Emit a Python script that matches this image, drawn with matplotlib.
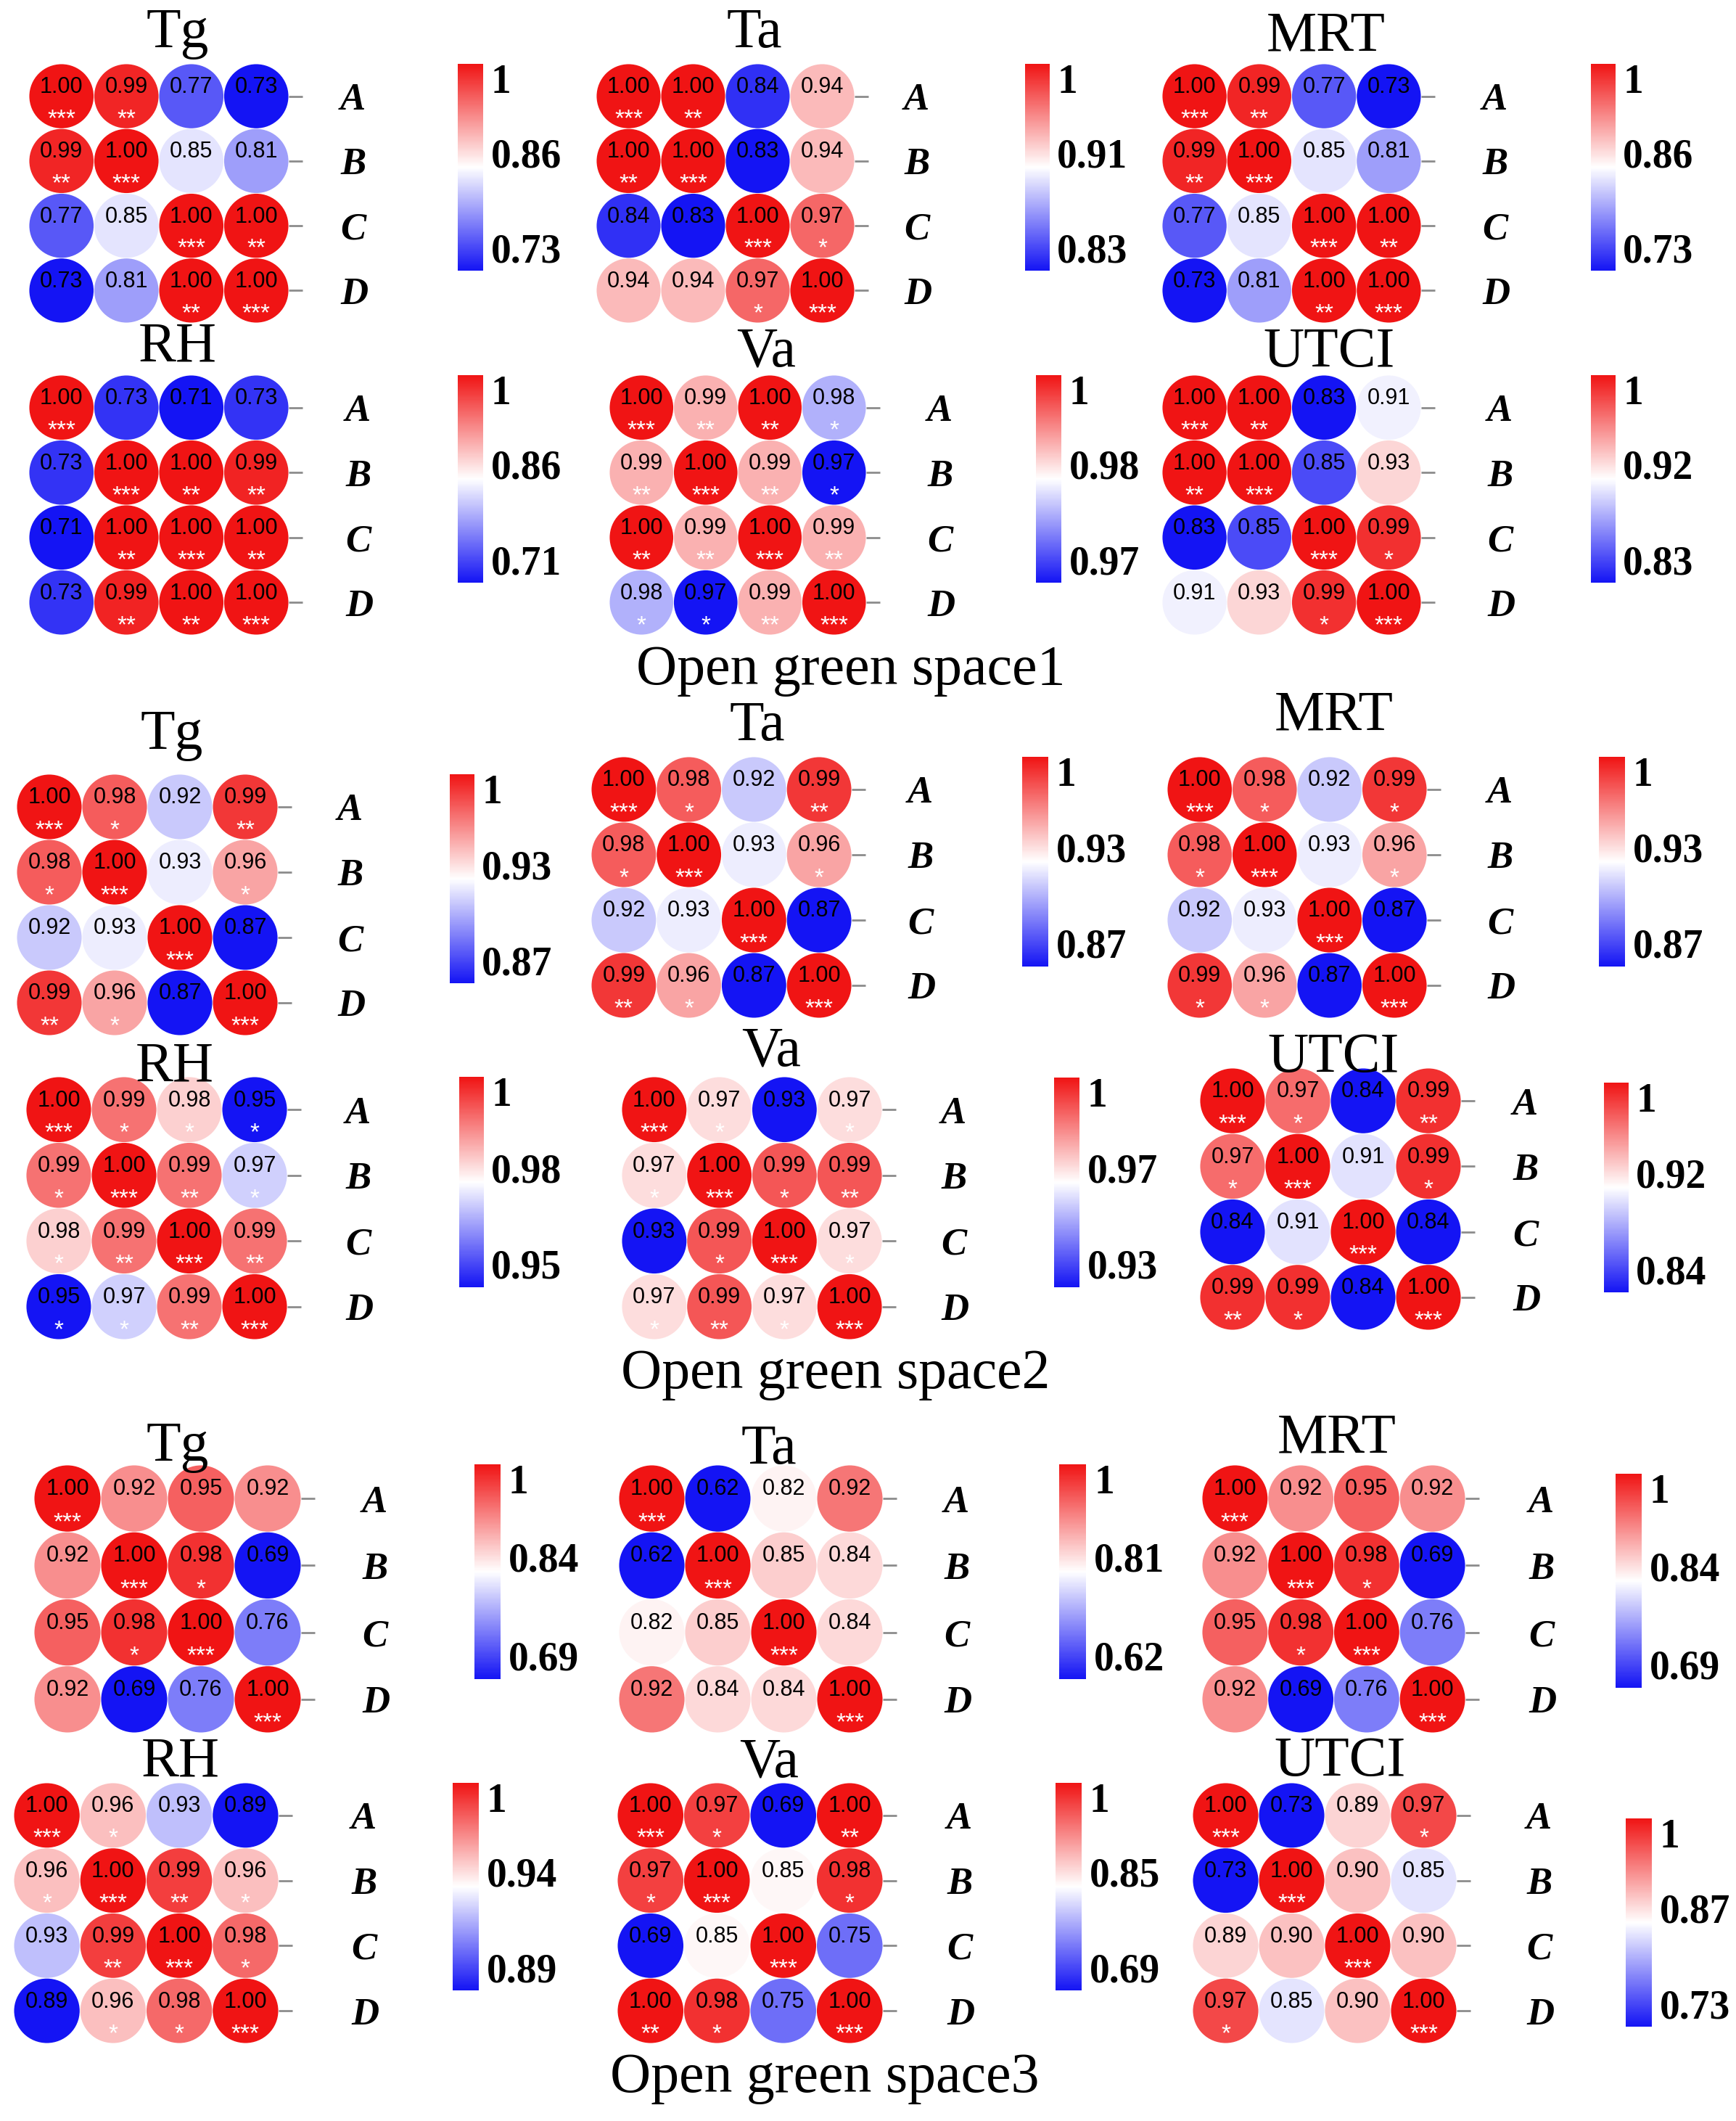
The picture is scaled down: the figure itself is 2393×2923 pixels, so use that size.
import matplotlib.pyplot as plt
from matplotlib.colors import LinearSegmentedColormap, Normalize
from matplotlib.cm import ScalarMappable
from matplotlib.patches import Ellipse

W, H = 2393, 2923

sites = ["A", "B", "C", "D"]

# ---- Open green space 1 ----
s1_tg = [[1.00, 0.99, 0.77, 0.73], [0.99, 1.00, 0.85, 0.81],
         [0.77, 0.85, 1.00, 1.00], [0.73, 0.81, 1.00, 1.00]]
s1_tg_sig = [[3, 2, 0, 0], [2, 3, 0, 0], [0, 0, 3, 2], [0, 0, 2, 3]]
s1_ta = [[1.00, 1.00, 0.84, 0.94], [1.00, 1.00, 0.83, 0.94],
         [0.84, 0.83, 1.00, 0.97], [0.94, 0.94, 0.97, 1.00]]
s1_ta_sig = [[3, 2, 0, 0], [2, 3, 0, 0], [0, 0, 3, 1], [0, 0, 1, 3]]
s1_mrt = [[1.00, 0.99, 0.77, 0.73], [0.99, 1.00, 0.85, 0.81],
          [0.77, 0.85, 1.00, 1.00], [0.73, 0.81, 1.00, 1.00]]
s1_mrt_sig = [[3, 2, 0, 0], [2, 3, 0, 0], [0, 0, 3, 2], [0, 0, 2, 3]]
s1_rh = [[1.00, 0.73, 0.71, 0.73], [0.73, 1.00, 1.00, 0.99],
         [0.71, 1.00, 1.00, 1.00], [0.73, 0.99, 1.00, 1.00]]
s1_rh_sig = [[3, 0, 0, 0], [0, 3, 2, 2], [0, 2, 3, 2], [0, 2, 2, 3]]
s1_va = [[1.00, 0.99, 1.00, 0.98], [0.99, 1.00, 0.99, 0.97],
         [1.00, 0.99, 1.00, 0.99], [0.98, 0.97, 0.99, 1.00]]
s1_va_sig = [[3, 2, 2, 1], [2, 3, 2, 1], [2, 2, 3, 2], [1, 1, 2, 3]]
s1_utci = [[1.00, 1.00, 0.83, 0.91], [1.00, 1.00, 0.85, 0.93],
           [0.83, 0.85, 1.00, 0.99], [0.91, 0.93, 0.99, 1.00]]
s1_utci_sig = [[3, 2, 0, 0], [2, 3, 0, 0], [0, 0, 3, 1], [0, 0, 1, 3]]

# ---- Open green space 2 ----
s2_tg = [[1.00, 0.98, 0.92, 0.99], [0.98, 1.00, 0.93, 0.96],
         [0.92, 0.93, 1.00, 0.87], [0.99, 0.96, 0.87, 1.00]]
s2_tg_sig = [[3, 1, 0, 2], [1, 3, 0, 1], [0, 0, 3, 0], [2, 1, 0, 3]]
s2_ta = [[1.00, 0.98, 0.92, 0.99], [0.98, 1.00, 0.93, 0.96],
         [0.92, 0.93, 1.00, 0.87], [0.99, 0.96, 0.87, 1.00]]
s2_ta_sig = [[3, 1, 0, 2], [1, 3, 0, 1], [0, 0, 3, 0], [2, 1, 0, 3]]
s2_mrt = [[1.00, 0.98, 0.92, 0.99], [0.98, 1.00, 0.93, 0.96],
          [0.92, 0.93, 1.00, 0.87], [0.99, 0.96, 0.87, 1.00]]
s2_mrt_sig = [[3, 1, 0, 1], [1, 3, 0, 1], [0, 0, 3, 0], [1, 1, 0, 3]]
s2_rh = [[1.00, 0.99, 0.98, 0.95], [0.99, 1.00, 0.99, 0.97],
         [0.98, 0.99, 1.00, 0.99], [0.95, 0.97, 0.99, 1.00]]
s2_rh_sig = [[3, 1, 1, 1], [1, 3, 2, 1], [1, 2, 3, 2], [1, 1, 2, 3]]
s2_va = [[1.00, 0.97, 0.93, 0.97], [0.97, 1.00, 0.99, 0.99],
         [0.93, 0.99, 1.00, 0.97], [0.97, 0.99, 0.97, 1.00]]
s2_va_sig = [[3, 1, 0, 1], [1, 3, 1, 2], [0, 1, 3, 1], [1, 2, 1, 3]]
s2_utci = [[1.00, 0.97, 0.84, 0.99], [0.97, 1.00, 0.91, 0.99],
           [0.84, 0.91, 1.00, 0.84], [0.99, 0.99, 0.84, 1.00]]
s2_utci_sig = [[3, 1, 0, 2], [1, 3, 0, 1], [0, 0, 3, 0], [2, 1, 0, 3]]

# ---- Open green space 3 ----
s3_tg = [[1.00, 0.92, 0.95, 0.92], [0.92, 1.00, 0.98, 0.69],
         [0.95, 0.98, 1.00, 0.76], [0.92, 0.69, 0.76, 1.00]]
s3_tg_sig = [[3, 0, 0, 0], [0, 3, 1, 0], [0, 1, 3, 0], [0, 0, 0, 3]]
s3_ta = [[1.00, 0.62, 0.82, 0.92], [0.62, 1.00, 0.85, 0.84],
         [0.82, 0.85, 1.00, 0.84], [0.92, 0.84, 0.84, 1.00]]
s3_ta_sig = [[3, 0, 0, 0], [0, 3, 0, 0], [0, 0, 3, 0], [0, 0, 0, 3]]
s3_mrt = [[1.00, 0.92, 0.95, 0.92], [0.92, 1.00, 0.98, 0.69],
          [0.95, 0.98, 1.00, 0.76], [0.92, 0.69, 0.76, 1.00]]
s3_mrt_sig = [[3, 0, 0, 0], [0, 3, 1, 0], [0, 1, 3, 0], [0, 0, 0, 3]]
s3_rh = [[1.00, 0.96, 0.93, 0.89], [0.96, 1.00, 0.99, 0.96],
         [0.93, 0.99, 1.00, 0.98], [0.89, 0.96, 0.98, 1.00]]
s3_rh_sig = [[3, 1, 0, 0], [1, 3, 2, 1], [0, 2, 3, 1], [0, 1, 1, 3]]
s3_va = [[1.00, 0.97, 0.69, 1.00], [0.97, 1.00, 0.85, 0.98],
         [0.69, 0.85, 1.00, 0.75], [1.00, 0.98, 0.75, 1.00]]
s3_va_sig = [[3, 1, 0, 2], [1, 3, 0, 1], [0, 0, 3, 0], [2, 1, 0, 3]]
s3_utci = [[1.00, 0.73, 0.89, 0.97], [0.73, 1.00, 0.90, 0.85],
           [0.89, 0.90, 1.00, 0.90], [0.97, 0.85, 0.90, 1.00]]
s3_utci_sig = [[3, 0, 0, 1], [0, 3, 0, 0], [0, 0, 3, 0], [1, 0, 0, 3]]

# colorbar tick labels (low, mid); top is always 1
cbar_low = [0.73, 0.83, 0.73, 0.71, 0.97, 0.83,
            0.87, 0.87, 0.87, 0.95, 0.93, 0.84,
            0.69, 0.62, 0.69, 0.89, 0.69, 0.73]
cbar_mid = [0.86, 0.91, 0.86, 0.86, 0.98, 0.92,
            0.93, 0.93, 0.93, 0.98, 0.97, 0.92,
            0.84, 0.81, 0.84, 0.94, 0.85, 0.87]

names = ["Tg", "Ta", "MRT", "RH", "Va", "UTCI"] * 3
matrices = [s1_tg, s1_ta, s1_mrt, s1_rh, s1_va, s1_utci,
            s2_tg, s2_ta, s2_mrt, s2_rh, s2_va, s2_utci,
            s3_tg, s3_ta, s3_mrt, s3_rh, s3_va, s3_utci]
signif = [s1_tg_sig, s1_ta_sig, s1_mrt_sig, s1_rh_sig, s1_va_sig, s1_utci_sig,
          s2_tg_sig, s2_ta_sig, s2_mrt_sig, s2_rh_sig, s2_va_sig, s2_utci_sig,
          s3_tg_sig, s3_ta_sig, s3_mrt_sig, s3_rh_sig, s3_va_sig, s3_utci_sig]
section_titles = ["Open green space1", "Open green space2", "Open green space3"]

# layout in pixels: grid box, label x, colorbar box, title (x, baseline)
layout = [
    ((40, 398, 88, 445), 490, (631, 666, 88, 373), (245, 65)),
    ((822, 1178, 88, 445), 1267, (1413, 1447, 88, 373), (1040, 65)),
    ((1602, 1959, 88, 445), 2064, (2193, 2227, 88, 373), (1828, 70)),
    ((40, 398, 517, 875), 497, (631, 666, 517, 803), (245, 497)),
    ((840, 1194, 517, 875), 1299, (1428, 1463, 517, 803), (1056, 505)),
    ((1602, 1959, 517, 875), 2071, (2193, 2227, 517, 803), (1832, 505)),
    ((23, 383, 1067, 1427), 486, (620, 654, 1067, 1355), (237, 1032)),
    ((815, 1174, 1043, 1403), 1272, (1409, 1445, 1043, 1332), (1044, 1020)),
    ((1609, 1967, 1043, 1403), 2071, (2204, 2240, 1043, 1332), (1839, 1005)),
    ((36, 396, 1484, 1846), 497, (633, 667, 1484, 1774), (241, 1490)),
    ((857, 1216, 1484, 1846), 1318, (1453, 1488, 1485, 1774), (1063, 1468)),
    ((1654, 2014, 1472, 1833), 2106, (2211, 2245, 1492, 1781), (1838, 1477)),
    ((47, 415, 2019, 2388), 520, (654, 690, 2018, 2314), (245, 2013)),
    ((853, 1217, 2019, 2388), 1322, (1460, 1497, 2018, 2314), (1060, 2017)),
    ((1657, 2020, 2019, 2388), 2128, (2227, 2263, 2031, 2326), (1843, 2002)),
    ((19, 384, 2457, 2816), 505, (624, 660, 2457, 2743), (249, 2448)),
    ((851, 1217, 2457, 2816), 1326, (1455, 1491, 2457, 2743), (1060, 2448)),
    ((1644, 2008, 2457, 2816), 2125, (2241, 2277, 2506, 2793), (1847, 2447)),
]
section_pos = [(1173, 943), (1152, 1913), (1137, 2883)]

cmap = LinearSegmentedColormap.from_list("bwr_like", ["#1414f4", "#ffffff", "#f01414"])
serif = "Liberation Serif"
sans = "Liberation Sans"


def frac(box):
    x0, x1, y0, y1 = box
    return [x0 / W, 1 - y1 / H, (x1 - x0) / W, (y1 - y0) / H]


fig = plt.figure(figsize=(W / 100, H / 100), dpi=100)
fig.patch.set_facecolor("white")

for k in range(18):
    vals = matrices[k]
    sig = signif[k]
    low, mid = cbar_low[k], cbar_mid[k]
    grid, lab_x, cbox, (tx, ty) = layout[k]
    norm = Normalize(vmin=low, vmax=1.0)

    ax = fig.add_axes(frac(grid))
    for i in range(4):
        for j in range(4):
            v = vals[i][j]
            ax.add_patch(Ellipse((j + 0.5, i + 0.5), 0.99, 0.99,
                                 facecolor=cmap(norm(v)), edgecolor="none"))
            ax.text(j + 0.5, i + 0.36, f"{v:.2f}", ha="center", va="center",
                    fontsize=22, family=sans, color="black")
            if sig[i][j]:
                ax.text(j + 0.5, i + 0.86, "*" * sig[i][j], ha="center", va="center",
                        fontsize=24, family=sans, color="white")
    ax.set_xlim(0, 4)
    ax.set_ylim(4, 0)
    ax.set_xticks([])
    for sp in ax.spines.values():
        sp.set_visible(False)
    ax.yaxis.tick_right()
    ax.set_yticks([0.5, 1.5, 2.5, 3.5])
    ax.set_yticklabels(sites, family=serif, fontsize=38, fontweight="bold", fontstyle="italic")
    pad_px = lab_x - 21 - (grid[1] + 19)
    ax.tick_params(axis="y", length=13.7, width=2, color="#8c8c8c", pad=pad_px * 0.72)
    ax.set_facecolor("none")

    cax = fig.add_axes(frac(cbox))
    cb = fig.colorbar(ScalarMappable(norm=norm, cmap=cmap), cax=cax)
    cb.outline.set_visible(False)
    cax.set_yticks([])
    tr = cax.get_yaxis_transform()
    lab_kw = dict(transform=tr, ha="left", fontsize=40, family=serif, fontweight="bold")
    cax.text(1.3, 1.0, "1", va="top", **lab_kw)
    cax.text(1.3, (low + 1.0) / 2, f"{mid:.2f}", va="baseline", **lab_kw)
    cax.text(1.3, low, f"{low:.2f}", va="bottom", **lab_kw)

    fig.text(tx / W, 1 - ty / H, names[k], ha="center", va="baseline",
             fontsize=56, family=serif)

for t, (sx, sy) in zip(section_titles, section_pos):
    fig.text(sx / W, 1 - sy / H, t, ha="center", va="baseline", fontsize=56, family=serif)

fig.savefig("out.png", dpi=100, facecolor="white")
